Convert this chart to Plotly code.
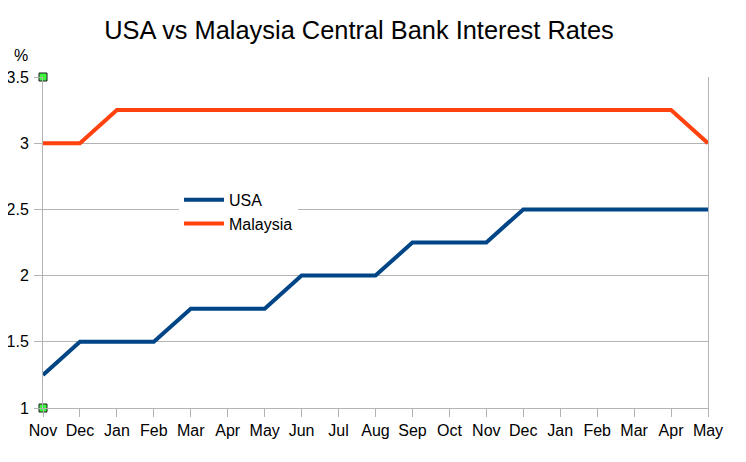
import plotly.graph_objects as go

months = ['Nov', 'Dec', 'Jan', 'Feb', 'Mar', 'Apr', 'May', 'Jun', 'Jul', 'Aug',
          'Sep', 'Oct', 'Nov', 'Dec', 'Jan', 'Feb', 'Mar', 'Apr', 'May']
usa = [1.25, 1.5, 1.5, 1.5, 1.75, 1.75, 1.75, 2, 2, 2,
       2.25, 2.25, 2.25, 2.5, 2.5, 2.5, 2.5, 2.5, 2.5]
malaysia = [3, 3, 3.25, 3.25, 3.25, 3.25, 3.25, 3.25, 3.25, 3.25,
            3.25, 3.25, 3.25, 3.25, 3.25, 3.25, 3.25, 3.25, 3]
handle_y = [3.5, 1]

x = list(range(len(months)))
font = 'Liberation Sans, Arial, sans-serif'

fig = go.Figure()
fig.add_trace(go.Scatter(x=x, y=usa, name='USA', mode='lines',
                         line=dict(color='#004586', width=4)))
fig.add_trace(go.Scatter(x=x, y=malaysia, name='Malaysia', mode='lines',
                         line=dict(color='#ff420e', width=4)))
# selection handles on the y axis
fig.add_trace(go.Scatter(x=[0, 0], y=handle_y, mode='markers', showlegend=False,
                         cliponaxis=False, hoverinfo='skip',
                         marker=dict(symbol='square', size=8, color='#3cf53c',
                                     line=dict(color='#1a1a1a', width=1))))

# page body adds an 8px offset, so the figure is 730x446
fig.update_layout(
    width=730, height=446,
    margin=dict(l=35, r=30, t=69, b=46, autoexpand=False),
    paper_bgcolor='white', plot_bgcolor='white',
    font=dict(family=font, size=16, color='black'),
    title=dict(text='USA vs Malaysia Central Bank Interest Rates',
               font=dict(size=25.4, color='black'),
               x=351 / 730, xanchor='center', y=0.9507, yanchor='middle',
               automargin=False),
    legend=dict(x=0.2045, y=0.68, xanchor='left', yanchor='top',
                bgcolor='white', font=dict(size=16), itemwidth=40),
    annotations=[dict(text='%', xref='paper', yref='paper', x=-0.0338, y=1.065,
                      xanchor='center', yanchor='middle', showarrow=False,
                      font=dict(size=16))],
)
fig.update_xaxes(range=[0, 18], tickmode='array', tickvals=x, ticktext=months,
                 showgrid=False, showline=True, linecolor='#b3b3b3', linewidth=1,
                 ticks='outside', ticklen=8, tickcolor='#b3b3b3', zeroline=False,
                 automargin=False)
fig.update_yaxes(range=[1, 3.5], dtick=0.5, showgrid=True, gridcolor='#b3b3b3',
                 showline=True, linecolor='#b3b3b3', linewidth=1, mirror=True,
                 ticks='outside', ticklen=8, tickcolor='#b3b3b3', zeroline=False,
                 ticklabelstandoff=2, automargin=False)

fig.write_html('out.html')
